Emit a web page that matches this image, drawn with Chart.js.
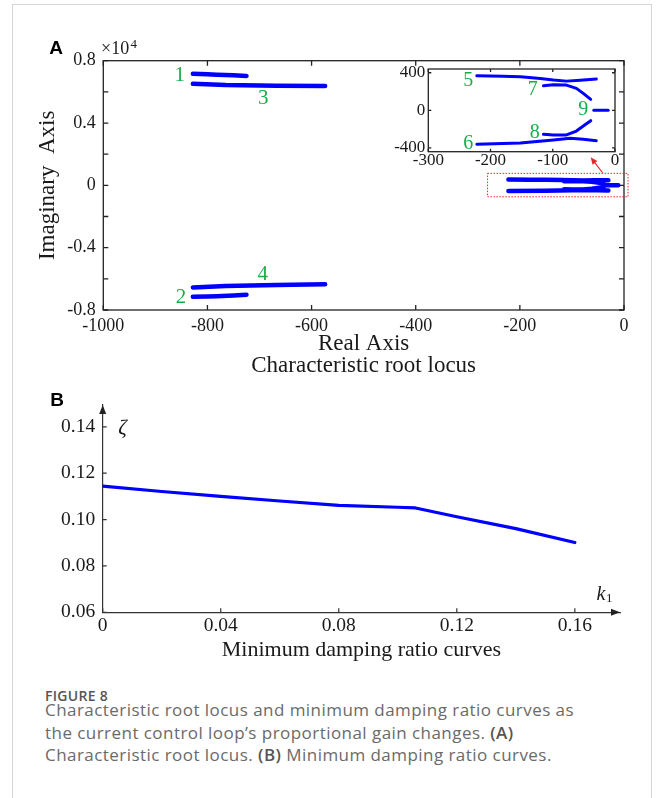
<!DOCTYPE html>
<html><head><meta charset="utf-8">
<script src="https://cdn.jsdelivr.net/npm/chart.js@4.4.1/dist/chart.umd.min.js"></script>
<style>
html,body{margin:0;padding:0;background:#fff;}
#wrap{position:relative;width:658px;height:798px;overflow:hidden;background:#fff;}
#frame{position:absolute;left:12px;top:4px;width:640px;height:830px;border:1px solid #d6d6d6;box-sizing:border-box;}
canvas{position:absolute;}
#cA{left:0;top:0;}
#cI{left:378px;top:55px;}
#cB{left:0;top:380px;}
.cap{position:absolute;left:45px;font-family:'Open Sans',sans-serif;color:#6a6a6a;white-space:nowrap;font-size:17px;letter-spacing:0.45px;line-height:22.5px;}
.cap b{font-weight:600;color:#555;}
#fig{position:absolute;left:45px;top:687.5px;font-family:'Open Sans',sans-serif;font-size:14px;letter-spacing:0.3px;line-height:16px;color:#555;font-weight:600;}
</style></head>
<body>
<div id="wrap">
<div id="frame"></div>
<canvas id="cA" width="658" height="380"></canvas>
<canvas id="cI" width="252" height="120"></canvas>
<canvas id="cB" width="658" height="290"></canvas>
<div id="fig">FIGURE 8</div>
<div class="cap" style="top:699px">Characteristic root locus and minimum damping ratio curves as</div>
<div class="cap" style="top:721.5px">the current control loop’s proportional gain changes. <b>(A)</b></div>
<div class="cap" style="top:744px">Characteristic root locus. <b>(B)</b> Minimum damping ratio curves.</div>
</div>
<script>
// ---------- DATA ----------
// Panel A: root-locus branches (real part, imaginary part)
const branch1Re = [-828, -800, -782, -750, -725];
const branch1Im = [7160, 7130, 7100, 7060, 7020];
const branch2Re = [-828, -800, -782, -750, -725];
const branch2Im = [-7150, -7135, -7120, -7070, -7020];
const branch3Re = [-828, -765, -667, -574];
const branch3Im = [6520, 6440, 6390, 6370];
const branch4Re = [-828, -765, -667, -574];
const branch4Im = [-6550, -6460, -6400, -6350];
const branch5Re = [-222, -180, -152, -120, -99, -78, -56, -30];
const branch5Im = [368, 364, 357, 340, 322, 311, 320, 333];
const branch6Re = [-222, -152, -99, -72, -51, -30];
const branch6Im = [-361, -348, -316, -298, -308, -323];
const branch7Re = [-115, -99, -78, -62, -51, -39];
const branch7Im = [261, 272, 269, 234, 181, 117];
const branch8Re = [-115, -99, -78, -62, -51, -39];
const branch8Im = [-255, -262, -262, -220, -167, -110];
const branch9Re = [-34, -11];
const branch9Im = [0, 0];

const mainLabels = ['1', '2', '3', '4'];
const mainLabelRe = [-853, -851, -693, -694];
const mainLabelIm = [7080, -7190, 5600, -5725];
const insetLabels = ['5', '6', '7', '8', '9'];
const insetLabelRe = [-236, -236, -132, -129, -51];
const insetLabelIm = [317, -358, 223, -236, 3];

const realTicksA = [-1000, -800, -600, -400, -200, 0];
const imagTicksA = [-8000, -4000, 0, 4000, 8000];
const imagMarksA = [-8000, -6000, -4000, -2000, 0, 2000, 4000, 6000, 8000];
const realTicksInset = [-300, -200, -100, 0];
const imagTicksInset = [-400, 0, 400];

// zoom box & arrow (data coordinates of panel A)
const zoomBoxRe = [-262, 7.7];
const zoomBoxIm = [-735, 770];
const arrowRe = [-41, -64];
const arrowIm = [809, 1797];

// Panel B: minimum damping ratio vs k1
const k1Values = [0, 0.02, 0.04, 0.06, 0.08, 0.10, 0.106, 0.12, 0.14, 0.16];
const zetaValues = [0.1144, 0.1121, 0.1100, 0.1080, 0.1061, 0.1053, 0.1050, 0.1012, 0.0961, 0.0901];
const k1Ticks = [0, 0.04, 0.08, 0.12, 0.16];
const zetaTicks = [0.06, 0.08, 0.10, 0.12, 0.14];

// ---------- HELPERS ----------
const serif = "'Liberation Serif','Times New Roman',serif";
const pts = (re, im) => re.map((r, i) => ({x: r, y: im[i]}));
const lineDs = (re, im, w) => ({data: pts(re, im), showLine: true, borderColor: '#0000ff', backgroundColor: '#0000ff',
  borderWidth: w, pointRadius: 0, borderCapStyle: 'round', borderJoinStyle: 'round', tension: 0});
const allRe = [branch1Re, branch2Re, branch3Re, branch4Re, branch5Re, branch6Re, branch7Re, branch8Re, branch9Re];
const allIm = [branch1Im, branch2Im, branch3Im, branch4Im, branch5Im, branch6Im, branch7Im, branch8Im, branch9Im];
const insetRe = [branch5Re, branch6Re, branch7Re, branch8Re, branch9Re];
const insetIm = [branch5Im, branch6Im, branch7Im, branch8Im, branch9Im];
const green = '#19ad4a';
const ink = '#1a1a1a';

// ---------- PANEL A ----------
const plA = {
  id: 'plA',
  afterDraw(c) {
    const {ctx, chartArea: a, scales: {x, y}} = c;
    ctx.save();
    ctx.strokeStyle = '#222'; ctx.lineWidth = 1.3;
    ctx.strokeRect(a.left, a.top, a.right - a.left, a.bottom - a.top);
    ctx.beginPath();
    realTicksA.forEach(v => { const p = x.getPixelForValue(v);
      ctx.moveTo(p, a.bottom); ctx.lineTo(p, a.bottom - 5); ctx.moveTo(p, a.top); ctx.lineTo(p, a.top + 5); });
    imagMarksA.forEach(v => { const p = y.getPixelForValue(v);
      ctx.moveTo(a.left, p); ctx.lineTo(a.left + 5, p); ctx.moveTo(a.right, p); ctx.lineTo(a.right - 5, p); });
    ctx.stroke();
    // labels
    ctx.fillStyle = green; ctx.font = '21px ' + serif; ctx.textAlign = 'center'; ctx.textBaseline = 'middle';
    mainLabels.forEach((t, i) => ctx.fillText(t, x.getPixelForValue(mainLabelRe[i]), y.getPixelForValue(mainLabelIm[i])));
    // zoom box
    ctx.strokeStyle = '#e8262a'; ctx.lineWidth = 1; ctx.setLineDash([1.5, 1.5]);
    const bx0 = x.getPixelForValue(zoomBoxRe[0]), bx1 = x.getPixelForValue(zoomBoxRe[1]);
    const by0 = y.getPixelForValue(zoomBoxIm[1]), by1 = y.getPixelForValue(zoomBoxIm[0]);
    ctx.strokeRect(bx0, by0, bx1 - bx0, by1 - by0);
    ctx.setLineDash([]);
    // arrow
    const ax0 = x.getPixelForValue(arrowRe[0]), ay0 = y.getPixelForValue(arrowIm[0]);
    const ax1 = x.getPixelForValue(arrowRe[1]), ay1 = y.getPixelForValue(arrowIm[1]);
    const ang = Math.atan2(ay1 - ay0, ax1 - ax0);
    ctx.strokeStyle = '#e8262a'; ctx.fillStyle = '#e8262a'; ctx.lineWidth = 1.2;
    ctx.beginPath(); ctx.moveTo(ax0, ay0); ctx.lineTo(ax1 - 5 * Math.cos(ang), ay1 - 5 * Math.sin(ang)); ctx.stroke();
    ctx.beginPath(); ctx.moveTo(ax1, ay1);
    ctx.lineTo(ax1 - 7 * Math.cos(ang) + 3 * Math.sin(ang), ay1 - 7 * Math.sin(ang) - 3 * Math.cos(ang));
    ctx.lineTo(ax1 - 7 * Math.cos(ang) - 3 * Math.sin(ang), ay1 - 7 * Math.sin(ang) + 3 * Math.cos(ang));
    ctx.closePath(); ctx.fill();
    // exponent and panel letter
    ctx.fillStyle = ink; ctx.textAlign = 'left'; ctx.textBaseline = 'alphabetic';
    ctx.font = '18px ' + serif; ctx.fillText('×10', 101, 54);
    ctx.font = '13px ' + serif; ctx.fillText('4', 130.5, 48);
    ctx.fillStyle = '#000'; ctx.font = "bold 19px 'Liberation Sans',Arial,sans-serif"; ctx.textAlign = 'center';
    ctx.fillText('A', 56, 54);
    ctx.restore();
  }
};

new Chart(document.getElementById('cA'), {
  type: 'scatter',
  data: {datasets: allRe.map((r, i) => lineDs(r, allIm[i], 4.5))},
  options: {
    responsive: false, animation: false, devicePixelRatio: 1,
    layout: {padding: {left: 0, right: 34, top: 60.7, bottom: 3}},
    plugins: {legend: {display: false}, tooltip: {enabled: false}},
    scales: {
      x: {type: 'linear', min: -1000, max: 0,
        afterBuildTicks: s => { s.ticks = realTicksA.map(v => ({value: v})); },
        ticks: {font: {family: serif, size: 18}, color: ink, padding: 5, maxRotation: 0, autoSkip: false,
          callback: v => String(v)},
        grid: {display: false, drawTicks: false}, border: {display: false},
        title: {display: true, text: ['Real Axis', 'Characteristic root locus'], color: ink,
          font: {family: serif, size: 23, lineHeight: 0.943}, padding: {top: 0, bottom: 0.5}},
        afterFit: s => { s.height = 67; }},
      y: {type: 'linear', min: -8000, max: 8000,
        afterBuildTicks: s => { s.ticks = imagTicksA.map(v => ({value: v})); },
        ticks: {font: {family: serif, size: 18}, color: ink, padding: 7.5, autoSkip: false,
          callback: v => String(Math.round(v / 1000) / 10)},
        grid: {display: false, drawTicks: false}, border: {display: false},
        title: {display: true, text: 'Imaginary  Axis', color: ink,
          font: {family: serif, size: 23, lineHeight: 1}, padding: {top: 36, bottom: 0}},
        afterFit: s => { s.width = 103.3; }}
    }
  },
  plugins: [plA]
});

// ---------- INSET ----------
const plI = {
  id: 'plI',
  beforeDraw(c) {
    const {ctx, chartArea: a} = c;
    ctx.save(); ctx.fillStyle = '#fff'; ctx.fillRect(a.left, a.top, a.right - a.left, a.bottom - a.top); ctx.restore();
  },
  afterDraw(c) {
    const {ctx, chartArea: a, scales: {x, y}} = c;
    ctx.save();
    ctx.strokeStyle = '#222'; ctx.lineWidth = 1.3;
    ctx.strokeRect(a.left, a.top, a.right - a.left, a.bottom - a.top);
    ctx.beginPath();
    realTicksInset.forEach(v => { const p = x.getPixelForValue(v);
      ctx.moveTo(p, a.bottom); ctx.lineTo(p, a.bottom - 3); ctx.moveTo(p, a.top); ctx.lineTo(p, a.top + 3); });
    imagTicksInset.forEach(v => { const p = y.getPixelForValue(v);
      ctx.moveTo(a.left, p); ctx.lineTo(a.left + 3, p); ctx.moveTo(a.right, p); ctx.lineTo(a.right - 3, p); });
    ctx.stroke();
    ctx.fillStyle = green; ctx.font = '20px ' + serif; ctx.textAlign = 'center'; ctx.textBaseline = 'middle';
    insetLabels.forEach((t, i) => ctx.fillText(t, x.getPixelForValue(insetLabelRe[i]), y.getPixelForValue(insetLabelIm[i])));
    ctx.restore();
  }
};

new Chart(document.getElementById('cI'), {
  type: 'scatter',
  data: {datasets: insetRe.map((r, i) => lineDs(r, insetIm[i], 3))},
  options: {
    responsive: false, animation: false, devicePixelRatio: 1,
    layout: {padding: {left: 0, right: 15, top: 14, bottom: 0}},
    plugins: {legend: {display: false}, tooltip: {enabled: false}},
    scales: {
      x: {type: 'linear', min: -300, max: 0,
        afterBuildTicks: s => { s.ticks = realTicksInset.map(v => ({value: v})); },
        ticks: {font: {family: serif, size: 17, lineHeight: 1}, color: ink, padding: 0, maxRotation: 0, autoSkip: false,
          callback: v => String(v)},
        grid: {display: false, drawTicks: false}, border: {display: false},
        afterFit: s => { s.height = 23.3; }},
      y: {type: 'linear', min: -440, max: 440,
        afterBuildTicks: s => { s.ticks = imagTicksInset.map(v => ({value: v})); },
        ticks: {font: {family: serif, size: 17}, color: ink, padding: 3, autoSkip: false,
          callback: v => String(v)},
        grid: {display: false, drawTicks: false}, border: {display: false},
        afterFit: s => { s.width = 50.3; }}
    }
  },
  plugins: [plI]
});

// ---------- PANEL B ----------
const plB = {
  id: 'plB',
  afterDraw(c) {
    const {ctx, chartArea: a, scales: {x, y}} = c;
    ctx.save();
    ctx.strokeStyle = '#333'; ctx.lineWidth = 1.2;
    ctx.beginPath();
    k1Ticks.forEach(v => { const p = x.getPixelForValue(v); ctx.moveTo(p, a.bottom); ctx.lineTo(p, a.bottom - 4); });
    zetaTicks.forEach(v => { const p = y.getPixelForValue(v); ctx.moveTo(a.left, p); ctx.lineTo(a.left + 4, p); });
    ctx.stroke();
    ctx.fillStyle = '#222';
    ctx.beginPath(); ctx.moveTo(a.left, a.top); ctx.lineTo(a.left - 3.5, a.top + 9); ctx.lineTo(a.left + 3.5, a.top + 9); ctx.closePath(); ctx.fill();
    ctx.beginPath(); ctx.moveTo(a.right, a.bottom); ctx.lineTo(a.right - 9, a.bottom - 3.5); ctx.lineTo(a.right - 9, a.bottom + 3.5); ctx.closePath(); ctx.fill();
    ctx.fillStyle = ink; ctx.textAlign = 'center'; ctx.textBaseline = 'alphabetic';
    ctx.font = 'italic 21px ' + serif; ctx.fillText('ζ', 122.5, 54);
    ctx.textAlign = 'left';
    ctx.font = 'italic 20px ' + serif; ctx.fillText('k', 596.5, 220);
    ctx.font = '13px ' + serif; ctx.fillText('1', 606, 222);
    ctx.fillStyle = '#000'; ctx.font = "bold 19px 'Liberation Sans',Arial,sans-serif"; ctx.textAlign = 'center';
    ctx.fillText('B', 57, 26);
    ctx.restore();
  }
};

new Chart(document.getElementById('cB'), {
  type: 'scatter',
  data: {datasets: [lineDs(k1Values, zetaValues, 3.2)]},
  options: {
    responsive: false, animation: false, devicePixelRatio: 1,
    layout: {padding: {left: 0, right: 38, top: 25, bottom: 0}},
    plugins: {legend: {display: false}, tooltip: {enabled: false}},
    scales: {
      x: {type: 'linear', min: 0, max: 0.1753,
        afterBuildTicks: s => { s.ticks = k1Ticks.map(v => ({value: v})); },
        ticks: {font: {family: serif, size: 19.5}, color: ink, padding: 2, maxRotation: 0, autoSkip: false,
          callback: v => v === 0 ? '0' : v.toFixed(2)},
        grid: {display: false, drawTicks: false}, border: {display: true, color: '#333', width: 1.2},
        title: {display: true, text: 'Minimum damping ratio curves', color: ink,
          font: {family: serif, size: 22, lineHeight: 1}, padding: {top: 0, bottom: 9.2}},
        afterFit: s => { s.height = 57.7; }},
      y: {type: 'linear', min: 0.06, max: 0.1494,
        afterBuildTicks: s => { s.ticks = zetaTicks.map(v => ({value: v})); },
        ticks: {font: {family: serif, size: 19.5}, color: ink, padding: 7.5, autoSkip: false,
          callback: v => v.toFixed(2)},
        grid: {display: false, drawTicks: false}, border: {display: true, color: '#333', width: 1.2},
        afterFit: s => { s.width = 102.7; }}
    }
  },
  plugins: [plB]
});
</script>
</body></html>
